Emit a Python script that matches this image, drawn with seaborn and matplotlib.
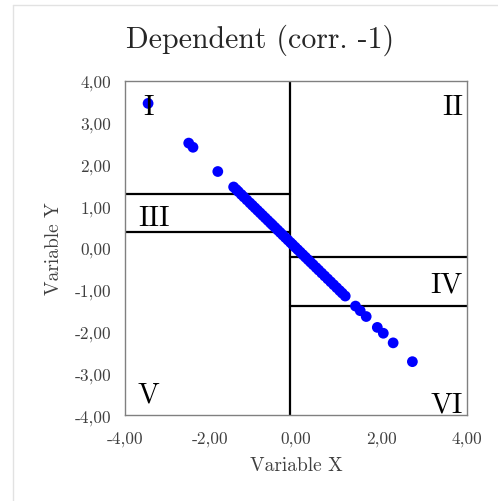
import seaborn as sns
import numpy as np
import matplotlib.pyplot as plt
import pandas as pd
from matplotlib.lines import Line2D

x_vals = [-3.46, -2.51, -2.41, -1.83,
          -1.46, -1.40, -1.35, -1.28, -1.22, -1.15, -1.08, -1.02, -0.96, -0.90,
          -0.84, -0.78, -0.72, -0.66, -0.60, -0.55, -0.49, -0.43, -0.37, -0.31,
          -0.25, -0.19, -0.13, -0.08, -0.02, 0.04, 0.10, 0.16, 0.22, 0.28,
          0.34, 0.40, 0.47, 0.53, 0.60, 0.67, 0.74, 0.81, 0.88, 0.95,
          1.02, 1.08, 1.15,
          1.39, 1.50, 1.64, 1.90, 2.04, 2.27, 2.72]
y_vals = [3.46, 2.51, 2.41, 1.83,
          1.46, 1.40, 1.35, 1.28, 1.22, 1.15, 1.08, 1.02, 0.96, 0.90,
          0.84, 0.78, 0.72, 0.66, 0.60, 0.55, 0.49, 0.43, 0.37, 0.31,
          0.25, 0.19, 0.13, 0.08, 0.02, -0.04, -0.10, -0.16, -0.22, -0.28,
          -0.34, -0.40, -0.47, -0.53, -0.60, -0.67, -0.74, -0.81, -0.88, -0.95,
          -1.02, -1.08, -1.15,
          -1.39, -1.50, -1.64, -1.90, -2.04, -2.27, -2.72]

x_split = -0.15
left_cuts = [1.28, 0.38]
right_cuts = [-0.22, -1.38]
ticks = [-4, -3, -2, -1, 0, 1, 2, 3, 4]
x_ticks = [-4, -2, 0, 2, 4]

df = pd.DataFrame({'x': x_vals, 'y': y_vals})

sns.set_theme(style="white")
plt.rcParams['font.family'] = ['cmr10', 'DejaVu Serif']
plt.rcParams['axes.unicode_minus'] = False

fig = plt.figure(figsize=(4.98, 5.02), dpi=100)
ax = fig.add_axes([0.251, 0.171, 0.687, 0.666])

sns.scatterplot(data=df, x='x', y='y', color='#0000ff', s=60, edgecolor='none', ax=ax, zorder=3)

ax.plot([x_split, x_split], [-4, 4], color='black', lw=1.6, zorder=2)
for c in left_cuts:
    ax.plot([-4, x_split], [c, c], color='black', lw=1.6, zorder=2)
for c in right_cuts:
    ax.plot([x_split, 4], [c, c], color='black', lw=1.6, zorder=2)

ax.set_xlim(-4, 4)
ax.set_ylim(-4, 4)
ax.set_xticks(x_ticks)
ax.set_yticks(ticks)
fmt = lambda v: f'{v:.2f}'.replace('.', ',')
ax.set_xticklabels([fmt(v) for v in x_ticks], fontsize=12.5, color='#404040')
ax.set_yticklabels([fmt(v) for v in ticks], fontsize=12.5, color='#404040')
ax.tick_params(axis='x', length=0, pad=11)
ax.tick_params(axis='y', length=0, pad=10)
ax.set_xlabel('Variable X', fontsize=14, color='#404040', labelpad=7)
ax.set_ylabel('Variable Y', fontsize=14, color='#404040', labelpad=8)
for sp in ax.spines.values():
    sp.set_color('#808080')
    sp.set_linewidth(1.0)

kw = dict(fontsize=21, color='black')
ax.text(-3.45, 3.37, 'I', ha='center', va='center', **kw)
ax.text(3.9, 3.37, 'II', ha='right', va='center', **kw)
ax.text(-3.7, 0.72, 'III', ha='left', va='center', **kw)
ax.text(3.9, -0.88, 'IV', ha='right', va='center', **kw)
ax.text(-3.7, -3.49, 'V', ha='left', va='center', **kw)
ax.text(3.9, -3.73, 'VI', ha='right', va='center', **kw)

fig.suptitle('Dependent (corr. -1)', fontsize=21.5, x=0.522, y=0.952)

fig.add_artist(Line2D([13 / 498, 1], [1 - 6 / 502, 1 - 6 / 502], color='#e2e2e2', lw=1))
fig.add_artist(Line2D([13 / 498, 13 / 498], [0, 1 - 6 / 502], color='#e2e2e2', lw=1))

fig.savefig('out.png', dpi=100)
